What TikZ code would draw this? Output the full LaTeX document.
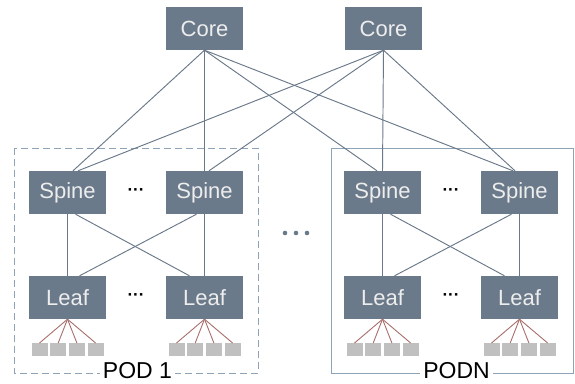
\documentclass[tikz,border=0pt]{standalone}
\usepackage{fontspec}
\setmainfont{Liberation Sans}

\definecolor{boxgray}{HTML}{6B7A8A}
\definecolor{linegray}{HTML}{6A798A}
\definecolor{podblue}{HTML}{8EA3B6}
\definecolor{srvgray}{HTML}{C0C0C0}
\definecolor{fanred}{HTML}{A86E6C}

\begin{document}
\begin{tikzpicture}[x=1pt,y=-1pt,
	sw/.style={fill=boxgray,text=white!93!black,minimum width=77pt,minimum height=43pt,inner sep=0pt,font=\fontsize{22}{24}\selectfont},
	srv/.style={fill=srvgray,minimum width=16pt,minimum height=13pt,inner sep=0pt},
	link/.style={linegray,line width=0.95pt},
	fan/.style={fanred,line width=0.9pt},
	more/.style={inner sep=0pt,font=\fontsize{17}{17}\selectfont\bfseries},
	podlbl/.style={fill=white,inner xsep=3pt,inner ysep=1pt,font=\fontsize{23}{24}\selectfont}]
		\useasboundingbox (0,0) rectangle (575,383);

		% pods
		\draw[podblue,line width=0.9pt,dash pattern=on 7pt off 4pt] (14,148) rectangle (258,373);
		\draw[podblue,line width=0.9pt] (331,148) rectangle (573,373);
		\node[podlbl] (P1) at (137.5,371) {POD 1};
		\node[podlbl] (PN) at (456.5,371) {PODN};

		\node[sw] (C1) at (204.5,28.5) {Core};
		\node[sw] (C2) at (383.5,28.5) {Core};

		\foreach \n/\x in {1/67.5,2/204.5,3/382.5,4/519.5} {
				\node[sw] (S\n) at (\x,192.5) {Spine};
				\node[sw] (L\n) at (\x,297.5) {Leaf};
				\foreach \k in {0,...,3} {
						\node[srv] (H\n\k) at ([xshift={\k*18.7pt-28pt},yshift=-30.5pt]L\n.south) {};
						\draw[fan] (L\n.south) -- (H\n\k.north);
					}
			}

		\node[more] (d1) at (136,192) {···};
		\node[more] (d2) at (136,297) {···};
		\node[more] (d3) at (451,192) {···};
		\node[more] (d4) at (451,297) {···};

		\foreach \c/\s/\o in {C1/S1/5.5,C1/S2/0,C1/S3/-5.5,C1/S4/-6.5,C2/S1/10.5,C2/S2/4.5,C2/S3/0,C2/S4/-4.5} {
				\draw[link] (\c.south) -- ([xshift=\o pt]\s.north);
			}
		\foreach \a/\b in {1/2,3/4} {
				\draw[link] (S\a.south) -- (L\a.north);
				\draw[link] (S\b.south) -- (L\b.north);
				\draw[link] ([xshift=8pt]S\a.south) -- ([xshift=-15pt]L\b.north);
				\draw[link] ([xshift=-8pt]S\b.south) -- ([xshift=12pt]L\a.north);
			}

		\foreach \i in {-1,0,1} {
				\fill[linegray] (296+\i*11,233) circle (2.3pt);
			}
	\end{tikzpicture}
\end{document}
